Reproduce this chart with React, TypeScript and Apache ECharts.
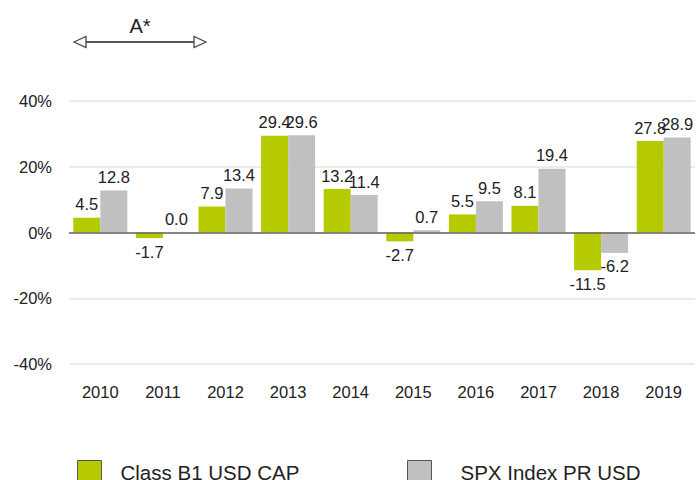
import React, { useEffect, useRef } from "react";
import * as echarts from "echarts";

const categories = ["2010", "2011", "2012", "2013", "2014", "2015", "2016", "2017", "2018", "2019"];
const classB1 = [4.5, -1.7, 7.9, 29.4, 13.2, -2.7, 5.5, 8.1, -11.5, 27.8];
const spx = [12.8, 0.0, 13.4, 29.6, 11.4, 0.7, 9.5, 19.4, -6.2, 28.9];
const seriesNames = ["Class B1 USD CAP", "SPX Index PR USD"];
const colors = ["#b5ca00", "#c0c0c0"];

const FONT = "'Liberation Sans', Arial, Helvetica, sans-serif";

function toData(values: number[]) {
  return values.map((v) => ({
    value: v,
    label: { position: v < 0 ? "bottom" : "top" },
  }));
}

export default function App() {
  const ref = useRef<HTMLDivElement>(null);
  useEffect(() => {
    if (!ref.current) return;
    const chart = echarts.init(ref.current, undefined, { renderer: "svg" });
    const labelCfg = {
      show: true,
      fontSize: 16.5,
      color: "#222",
      fontFamily: FONT,
      distance: 5,
      formatter: (p: any) => Number(p.value).toFixed(1),
    };
    const legendBase = {
      top: 460,
      padding: 0,
      itemWidth: 24,
      itemHeight: 24,
      icon: "rect",
      itemStyle: { borderColor: "#555", borderWidth: 1 },
    };
    const legendText = (leftPad: number) => ({
      fontSize: 20.5,
      color: "#222",
      fontFamily: FONT,
      padding: [0, 0, 8, leftPad],
    });
    chart.setOption({
      animation: false,
      textStyle: { fontFamily: FONT },
      grid: { left: 69, right: 4, top: 101, bottom: 116, containLabel: false },
      legend: [
        { ...legendBase, data: [seriesNames[0]], left: 77, textStyle: legendText(14) },
        { ...legendBase, data: [seriesNames[1]], left: 407, textStyle: legendText(24) },
      ],
      xAxis: {
        type: "category",
        data: categories,
        axisLine: { show: false, onZero: false },
        axisTick: { show: false },
        axisLabel: { fontSize: 16.5, color: "#222", margin: 19, fontFamily: FONT },
      },
      yAxis: {
        type: "value",
        min: -40,
        max: 40,
        interval: 20,
        axisLine: { show: false },
        axisTick: { show: false },
        axisLabel: { fontSize: 16.5, color: "#222", margin: 17, formatter: "{value}%", fontFamily: FONT },
        splitLine: { lineStyle: { color: "#e4e4e4", width: 1.5 } },
      },
      series: [
        {
          name: seriesNames[0],
          type: "bar",
          data: toData(classB1),
          barWidth: 27,
          barGap: "0%",
          itemStyle: { color: colors[0] },
          label: labelCfg,
          markLine: {
            silent: true,
            symbol: "none",
            label: { show: false },
            lineStyle: { color: "#666", width: 1.5, type: "solid" },
            data: [{ yAxis: 0 }],
          },
        },
        {
          name: seriesNames[1],
          type: "bar",
          data: toData(spx),
          barWidth: 27,
          barGap: "0%",
          itemStyle: { color: colors[1] },
          label: labelCfg,
        },
      ],
      graphic: [
        {
          type: "line",
          shape: { x1: 86, y1: 42, x2: 194, y2: 42 },
          style: { stroke: "#555", lineWidth: 2 },
        },
        {
          type: "polygon",
          shape: { points: [[74, 42], [86, 36.5], [86, 47.5]] },
          style: { fill: "#fff", stroke: "#444", lineWidth: 1.3 },
        },
        {
          type: "polygon",
          shape: { points: [[206, 42], [194, 36.5], [194, 47.5]] },
          style: { fill: "#fff", stroke: "#444", lineWidth: 1.3 },
        },
        {
          type: "text",
          x: 140,
          y: 26,
          style: {
            text: "A*",
            fontSize: 20,
            fill: "#222",
            fontFamily: FONT,
            align: "center",
            verticalAlign: "middle",
          },
        },
      ],
    });
    return () => chart.dispose();
  }, []);
  return <div ref={ref} style={{ width: 699, height: 480, position: "absolute", left: 0, top: 0 }} />;
}
